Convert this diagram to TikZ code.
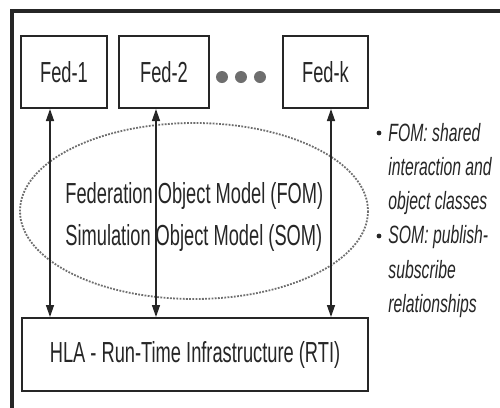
\documentclass[tikz,border=0pt]{standalone}
\usepackage{fontspec}
\setmainfont{Liberation Sans}
\newfontfamily\narrowsans[FakeStretch=0.63]{Liberation Sans}
\usetikzlibrary{arrows.meta}
\definecolor{ink}{HTML}{262626}
\definecolor{dotgray}{HTML}{6E6E6E}
\tikzset{
  fedbox/.style={draw=ink, line width=1pt, minimum height=36pt, inner sep=0pt,
    font=\narrowsans\fontsize{14.5}{16}\selectfont, text=ink},
  link/.style={draw=ink, line width=0.7pt, {Triangle[width=4pt,length=6pt]}-{Triangle[width=4pt,length=6pt]}},
  modeltext/.style={anchor=base west, inner sep=0pt, text=ink,
    font=\narrowsans\fontsize{14.5}{16}\selectfont},
  notetext/.style={anchor=base west, inner sep=0pt, text=ink,
    font=\narrowsans\itshape\fontsize{12.5}{14}\selectfont},
  bullet/.style={fill=ink, draw=none, circle, inner sep=0pt, minimum size=2.4pt},
  moredot/.style={fill=dotgray, draw=none, circle, inner sep=0pt, minimum size=6pt}
}
\begin{document}
\begin{tikzpicture}[x=0.5pt,y=-0.5pt]
\clip (0,0) rectangle (500,408);
\fill[white] (0,0) rectangle (500,408);

% outer frame
\draw[ink, line width=2pt] (12,430) -- (12,10.5) -- (520,10.5);

% federates
\node[fedbox, minimum width=43pt] (f1) at (64,72) {Fed-1};
\node[fedbox, minimum width=45pt] (f2) at (164,72) {Fed-2};
\node[fedbox, minimum width=42.5pt] (fk) at (325.5,72) {Fed-k};
\node[moredot] (d1) at (222,77) {};
\node[moredot] (d2) at (241,77) {};
\node[moredot] (d3) at (260,77) {};

% runtime infrastructure
\node[fedbox, minimum width=173pt, minimum height=36.5pt] (rti) at (195,354.5)
  {HLA - Run-Time Infrastructure (RTI)};

% object model ellipse
\draw[dotgray, line width=0.9pt, dash pattern=on 0.9pt off 0.7pt] (194,211) ellipse [x radius=174, y radius=88];
\node[modeltext] (fom) at (65,203) {Federation Object Model (FOM)};
\node[modeltext] (som) at (65,245) {Simulation Object Model (SOM)};

% federate <-> RTI connections
\draw[link] ([xshift=-7pt]f1.south) -- ([xshift=-7pt]f1.south |- rti.north);
\draw[link] ([xshift=-4pt]f2.south) -- ([xshift=-4pt]f2.south |- rti.north);
\draw[link] ([xshift=2.75pt]fk.south) -- ([xshift=2.75pt]fk.south |- rti.north);

% notes
\node[bullet] (b1) at (379,133) {};
\node[notetext] (n1) at (388,141) {FOM: shared};
\node[notetext] (n2) at (388,175) {interaction and};
\node[notetext] (n3) at (388,209) {object classes};
\node[bullet] (b2) at (379,236) {};
\node[notetext] (n4) at (388,243) {SOM: publish-};
\node[notetext] (n5) at (388,278) {subscribe};
\node[notetext] (n6) at (388,312) {relationships};
\end{tikzpicture}
\end{document}
